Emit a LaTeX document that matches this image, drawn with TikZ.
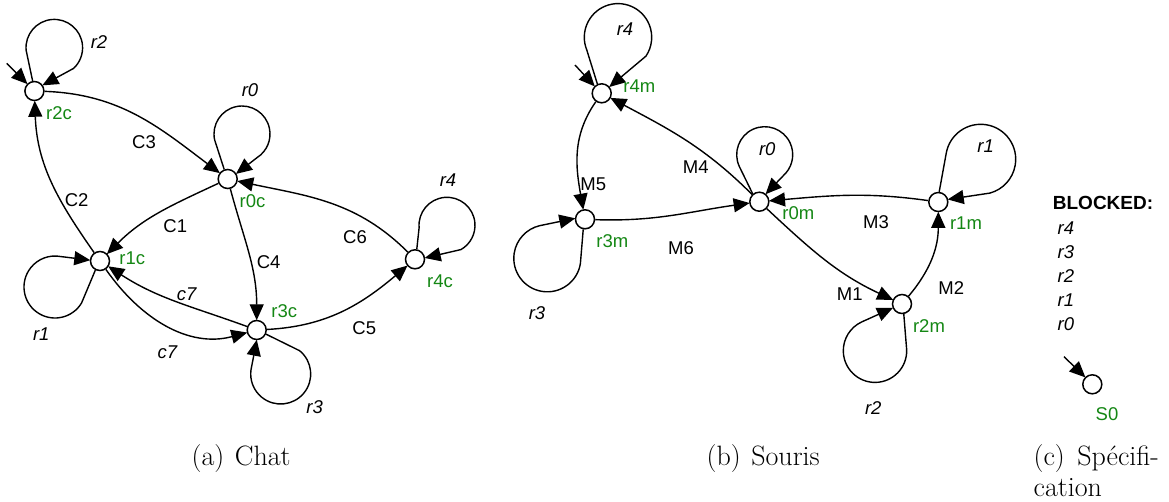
\documentclass[tikz,border=0pt]{standalone}
\usepackage{fontspec}
\usetikzlibrary{arrows.meta}
\newfontfamily\arialf{Liberation Sans}
\definecolor{lblgreen}{RGB}{20,135,20}
\tikzset{
  state/.style={circle,draw=black,fill=white,line width=1.5pt,minimum size=19pt,inner sep=0pt},
  edge/.style={line width=1.4pt,-{Triangle[length=16pt,width=14pt]},shorten >=-0.5pt},
  lbl/.style={font=\arialf\fontsize{18.5}{20}\selectfont,inner sep=0pt,text=black},
  lbli/.style={font=\arialf\itshape\fontsize{18.5}{20}\selectfont,inner sep=0pt,text=black},
  sname/.style={font=\arialf\fontsize{18.5}{20}\selectfont,inner sep=0pt,text=lblgreen},
  capt/.style={font=\rmfamily\fontsize{28}{31}\selectfont,inner sep=0pt,text=black,anchor=base west},
}
% teardrop self-loop: start anchor, circle centre x, y, radius, start angle, end angle, end anchor
\newcommand\tear[7]{\draw[edge] (#1) -- ([shift={(#5:#4)}]#2,#3) arc[start angle=#5,end angle=#6,radius=#4] -- (#7);}
\begin{document}
\begin{tikzpicture}[x=1pt,y=-1pt]
\useasboundingbox (0,0) rectangle (1169,501);
% Chat
\node[state] (r2c) at (34.4,91) {};
\node[state] (r0c) at (227.7,179) {};
\node[state] (r1c) at (100,261) {};
\node[state] (r3c) at (256.7,330) {};
\node[state] (r4c) at (415,259.3) {};
\coordinate (i2c) at (6.7,63.3);
\draw[edge] (i2c) -- (r2c.135);
\tear{r2c.100}{54.3}{47.7}{28.3}{175}{407}{r2c.35}
\tear{r0c.110}{242}{134}{28}{168}{417}{r0c.32}
\tear{r1c.243}{55}{287}{31}{31}{273}{r1c.175}
\tear{r3c.-24}{280.7}{374}{30}{309}{548}{r3c.-90}
\tear{r4c.80}{447}{225.3}{28}{175}{420}{r4c.8}
\draw[edge] (r2c) to[out=-2,in=143] (r0c);
\draw[edge] (r1c) to[out=125,in=-88] (r2c);
\draw[edge] (r0c) to[out=205,in=45] (r1c);
\draw[edge] (r0c) to[out=-75,in=90] (r3c);
\draw[edge] (r4c) to[out=135,in=-12] (r0c);
\draw[edge] (r3c) to[out=3,in=220] (r4c);
\draw[edge] (r3c) to[out=160,in=-33] (r1c);
\draw[edge] (r1c) to[out=-55,in=195] (r3c);
\node[lbli] (lr2c) at (99,42) {r2};
\node[sname] (nr2c) at (59,113) {r2c};
\node[lbl] (lc3) at (144,142) {C3};
\node[lbli] (lr0c) at (250,90) {r0};
\node[sname] (nr0c) at (252.5,201) {r0c};
\node[lbl] (lc2) at (76.7,200) {C2};
\node[lbl] (lc1) at (175.3,225.7) {C1};
\node[sname] (nr1c) at (132.3,258.3) {r1c};
\node[lbl] (lc4) at (268.7,261.7) {C4};
\node[lbl] (lc6) at (355,236.7) {C6};
\node[sname] (nr4c) at (440,281) {r4c};
\node[sname] (nr3c) at (284.3,311) {r3c};
\node[lbli] (lc7a) at (186.7,294) {c7};
\node[lbli] (lc7b) at (167.3,352.7) {c7};
\node[lbl] (lc5) at (364.3,328.3) {C5};
\node[lbli] (lr1c) at (41.3,334) {r1};
\node[lbli] (lr3c) at (314.7,406.7) {r3};
\node[lbli] (lr4c) at (448,180) {r4};
% Souris
\node[state] (r4m) at (601.7,93.3) {};
\node[state] (r0m) at (759.3,201.7) {};
\node[state] (r3m) at (585,219.3) {};
\node[state] (r1m) at (938.3,202) {};
\node[state] (r2m) at (902,304) {};
\coordinate (i4m) at (575,65);
\draw[edge] (i4m) -- (r4m.135);
\tear{r4m.115}{618}{37.3}{33.7}{158}{394}{r4m.40}
\tear{r0m.130}{764.7}{154.7}{28}{155}{400}{r0m.50}
\tear{r3m.260}{547.3}{258.3}{33.5}{9}{257}{r3m.175}
\tear{r1m.85}{980.7}{159.3}{35}{190}{435}{r1m.15}
\tear{r2m.280}{875}{350.7}{31.7}{-1}{245}{r2m.203}
\draw[edge] (r4m) to[out=-125,in=100] (r3m);
\draw[edge] (r0m) to[out=135,in=-28] (r4m);
\draw[edge] (r3m) to[out=-2,in=188] (r0m);
\draw[edge] (r1m) to[out=172,in=5] (r0m);
\draw[edge] (r0m) to[out=-43,in=155] (r2m);
\draw[edge] (r2m) to[out=50,in=-90] (r1m);
\node[lbli] (lr4m) at (625,29.3) {r4};
\node[sname] (nr4m) at (639.3,85.7) {r4m};
\node[lbl] (lm4) at (695.7,166.7) {M4};
\node[lbli] (lr0m) at (767.3,149.3) {r0};
\node[sname] (nr0m) at (798.3,212.7) {r0m};
\node[lbl] (lm5) at (593.3,184.3) {M5};
\node[sname] (nr3m) at (612.3,241) {r3m};
\node[lbl] (lm6) at (681,248.3) {M6};
\node[lbli] (lr3m) at (537,313) {r3};
\node[lbl] (lm3) at (876,222.3) {M3};
\node[lbli] (lr1m) at (985.7,145.7) {r1};
\node[sname] (nr1m) at (966,222.7) {r1m};
\node[lbl] (lm2) at (951.3,288.3) {M2};
\node[lbl] (lm1) at (849.7,294) {M1};
\node[sname] (nr2m) at (929,326) {r2m};
\node[lbli] (lr2m) at (873.3,408.3) {r2};
% Specification
\node[lbl,font=\arialf\bfseries\fontsize{19}{20}\selectfont,anchor=west] (blk) at (1052.7,202.7) {BLOCKED:};
\node[lbli,anchor=west] (b4) at (1057.5,228) {r4};
\node[lbli,anchor=west] (b3) at (1057.5,252) {r3};
\node[lbli,anchor=west] (b2) at (1057.5,276) {r2};
\node[lbli,anchor=west] (b1) at (1057.5,300) {r1};
\node[lbli,anchor=west] (b0) at (1057.5,324) {r0};
\node[state] (s0) at (1092.3,384.3) {};
\coordinate (is0) at (1064,356.7);
\draw[edge] (is0) -- (s0.135);
\node[sname] (ns0) at (1107,414) {S0};
% Captions
\node[capt] (ca) at (191.5,465.7) {(a)\hspace{2pt} Chat};
\node[capt] (cb) at (706.5,465.7) {(b)\hspace{2pt} Souris};
\node[capt] (cc) at (1033.5,465.7) {(c)\hspace{4pt} Spécifi-};
\node[capt] (cd) at (1033.5,496.7) {cation};
\end{tikzpicture}
\end{document}
